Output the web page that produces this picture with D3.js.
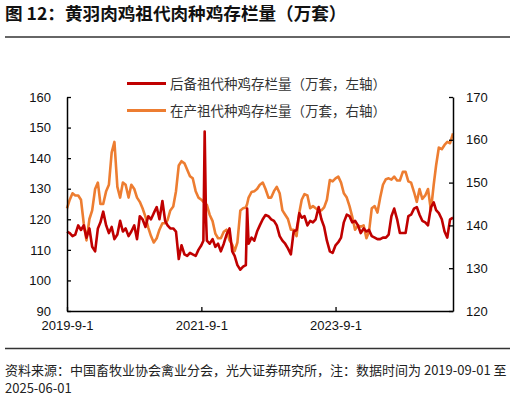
<!DOCTYPE html>
<html>
<head>
<meta charset="utf-8">
<script src="https://cdn.jsdelivr.net/npm/d3@7"></script>
<style>
  body { margin: 0; background: #fff; }
  svg text { font-family: "Liberation Sans", Arial, "Noto Sans CJK SC", sans-serif; }
  .cjk { font-family: "Noto Sans CJK SC", "Liberation Sans", sans-serif; }
</style>
</head>
<body>
<svg id="container"></svg>
<script>
// dates (semi-monthly, with a few extra points around spikes)
var dates = [
  "2019-09-01","2019-09-16","2019-10-01","2019-10-16","2019-11-01","2019-11-16","2019-12-01","2019-12-16",
  "2020-01-01","2020-01-16","2020-02-01","2020-02-16","2020-03-01","2020-03-16","2020-04-01","2020-04-16",
  "2020-05-01","2020-05-16","2020-06-01","2020-06-16","2020-07-01","2020-07-16","2020-08-01","2020-08-16",
  "2020-09-01","2020-09-16","2020-10-01","2020-10-16","2020-11-01","2020-11-16","2020-12-01","2020-12-16",
  "2021-01-01","2021-01-16","2021-02-01","2021-02-16","2021-03-01","2021-03-16","2021-04-01","2021-04-16",
  "2021-05-01","2021-05-16","2021-06-01","2021-06-16","2021-07-01","2021-07-16","2021-08-01","2021-08-16",
  "2021-09-01","2021-09-12","2021-09-19","2021-09-26","2021-10-01","2021-10-16","2021-11-01","2021-11-16",
  "2021-12-01","2021-12-16","2022-01-01","2022-01-16","2022-02-01","2022-02-16","2022-03-01","2022-03-16",
  "2022-04-01","2022-04-16","2022-05-01","2022-05-08","2022-05-16","2022-06-01","2022-06-16","2022-07-01",
  "2022-07-16","2022-08-01","2022-08-16","2022-09-01","2022-09-16","2022-10-01","2022-10-16","2022-11-01",
  "2022-11-16","2022-12-01","2022-12-16","2023-01-01","2023-01-16","2023-02-01","2023-02-16","2023-03-01",
  "2023-03-16","2023-04-01","2023-04-16","2023-05-01","2023-05-16","2023-06-01","2023-06-16","2023-07-01",
  "2023-07-16","2023-08-01","2023-08-16","2023-09-01","2023-09-16","2023-10-01","2023-10-16","2023-11-01",
  "2023-11-16","2023-12-01","2023-12-16","2024-01-01","2024-01-16","2024-02-01","2024-02-16","2024-03-01",
  "2024-03-16","2024-04-01","2024-04-16","2024-05-01","2024-05-16","2024-06-01","2024-06-16","2024-07-01",
  "2024-07-16","2024-08-01","2024-08-16","2024-09-01","2024-09-16","2024-10-01","2024-10-16","2024-11-01",
  "2024-11-16","2024-12-01","2024-12-16","2025-01-01","2025-01-16","2025-02-01","2025-02-16","2025-03-01",
  "2025-03-16","2025-04-01","2025-04-16","2025-05-01","2025-05-16","2025-06-01"
];

// 后备祖代种鸡存栏量 (左轴)
var reserveStock = [
  116,115.5,114.5,115,118,116.5,118,114,
  117,111,109.5,117,119,122.5,118,115.5,
  117.5,113.5,115,119.5,116,117,114.5,116,
  118,113.5,121,120,117.5,121,120,122,
  124,120,126,119.5,118,117,117,116,
  107,111.5,108.5,108,109,108.5,108,110,
  111.5,113,148.7,121,113,112,113.5,111,
  112,109.5,112,115,117,109.5,108,105,
  103.5,104.5,105,123.5,112,114,113,116,
  118,120,121.4,121,120,119.5,118,114.5,
  113,112,110.5,108.5,116,116.5,122,120.5,
  121,118,119.5,119,120,124,120,117.5,
  113,109.5,109,111.5,112.5,114,119,121.5,
  121,119,119.5,118,115.5,117,116,116.5,
  114.5,114,113.5,113.5,114,114,115,121,
  123.5,120,115.5,115.5,115.5,121,121.5,123.5,
  124,121.5,119.5,119,118,124,125.5,123,
  122,120,116,114,120,120.5
];

// 在产祖代种鸡存栏量 (右轴)
var layingStock = [
  144,146,147.5,147,147,146,140.5,136.5,
  141.5,143.5,148.5,150,145,145,148,149.5,
  157,159.5,149,146.5,150,149.5,146.5,149.5,
  148.5,146.5,145.5,144,142,139.5,137.5,136,
  137,139,140.5,140.5,141.2,143.5,144.4,148,
  154,155,154.5,153,151.5,151,148,146.5,
  146,145.5,145.5,145,144.8,142.5,141,138.1,
  137,137,138.5,139,136.5,135.5,134,136,
  143.5,144,144.2,145,146.5,147.8,148,148.5,
  149.5,150,148.5,146.5,146.5,148,149,147.5,
  143.5,142.5,141.5,139,139,137.5,143,146,
  147.3,147,144,144.5,144,143.5,143.5,144.2,
  146,150.6,150.3,151,151.4,150,147.5,146.5,
  144.5,142,139,140,139.7,140,137,138.5,
  144,144.5,143,146.5,149.5,150.8,151,150.7,
  151.4,150.5,150.5,152.5,152.5,150.3,150,147.8,
  145.5,148.5,146.2,147,148.5,143.5,149.5,154,
  158.2,157.8,158.8,159.5,159.2,161.5
];

var leftTicks = [90, 100, 110, 120, 130, 140, 150, 160];
var rightTicks = [120, 130, 140, 150, 160, 170];
var xTicks = ["2019-09-01", "2021-09-01", "2023-09-01"];

var seriesNames = ["后备祖代种鸡存栏量（万套，左轴）", "在产祖代种鸡存栏量（万套，右轴）"];
var colors = ["#C00000", "#ED7D31"];

function drawChart(){
    var parseDate = d3.timeParse("%Y-%m-%d");
    var fmt = d3.timeFormat("%Y-%-m-%-d");

    var W = 515, H = 398;
    var svg = d3.select("#container").attr("width", W).attr("height", H);

    // plot box
    var x0 = 67, x1 = 453, yTop = 97, yBot = 311;

    var xScale = d3.scaleTime()
        .domain([parseDate(dates[0]), parseDate(dates[dates.length - 1])])
        .range([x0, x1]);
    var yLeft = d3.scaleLinear().domain([90, 160]).range([yBot, yTop]);
    var yRight = d3.scaleLinear().domain([120, 170]).range([yBot, yTop]);

    // title
    svg.append("text")
        .attr("class", "cjk")
        .attr("x", 5).attr("y", 20)
        .style("font-size", "17.6px").style("font-weight", "bold").style("fill", "#111")
        .text("图 12：黄羽肉鸡祖代肉种鸡存栏量（万套）");
    svg.append("line")
        .attr("x1", 5).attr("x2", 510).attr("y1", 37).attr("y2", 37)
        .attr("stroke", "#333").attr("stroke-width", 1.3);

    // lines
    var rows = dates.map((d, i) => ({date: parseDate(d), a: reserveStock[i], b: layingStock[i]}));

    var lineB = d3.line().x(d => xScale(d.date)).y(d => yRight(d.b));
    var lineA = d3.line().x(d => xScale(d.date)).y(d => yLeft(d.a));

    svg.append("path").datum(rows)
        .attr("d", lineB).attr("fill", "none")
        .attr("stroke", colors[1]).attr("stroke-width", 2.6).attr("stroke-linejoin", "round");
    svg.append("path").datum(rows)
        .attr("d", lineA).attr("fill", "none")
        .attr("stroke", colors[0]).attr("stroke-width", 2.6).attr("stroke-linejoin", "round");

    // axes (ticks point inward)
    var gL = svg.append("g").attr("transform", "translate(" + x0 + ",0)")
        .call(d3.axisLeft(yLeft).tickValues(leftTicks).tickSizeInner(-4).tickSizeOuter(0).tickPadding(16));
    var gR = svg.append("g").attr("transform", "translate(" + x1 + ",0)")
        .call(d3.axisRight(yRight).tickValues(rightTicks).tickSizeInner(-4).tickSizeOuter(0).tickPadding(13));
    var gX = svg.append("g").attr("transform", "translate(0," + yBot + ")")
        .call(d3.axisBottom(xScale).tickValues(xTicks.map(parseDate)).tickFormat(fmt)
            .tickSizeInner(-4).tickSizeOuter(0).tickPadding(10));

    [gL, gR, gX].forEach(g => {
        g.select(".domain").attr("stroke", "#000").attr("stroke-width", 1.5);
        g.selectAll(".tick line").attr("stroke", "#000").attr("stroke-width", 1.3);
        g.selectAll(".tick text")
            .style("font-family", "'Liberation Sans', Arial, sans-serif")
            .style("font-size", "13px").attr("fill", "#111");
    });

    // legend
    var legend = svg.append("g");
    [83.5, 110.5].forEach((ly, i) => {
        legend.append("line")
            .attr("x1", 127).attr("x2", 166).attr("y1", ly).attr("y2", ly)
            .attr("stroke", colors[i]).attr("stroke-width", 3);
        legend.append("text")
            .attr("class", "cjk")
            .attr("x", 170).attr("y", ly + 5)
            .style("font-size", "13.5px").style("fill", "#333")
            .text(seriesNames[i]);
    });

    // footer
    svg.append("line")
        .attr("x1", 5).attr("x2", 510).attr("y1", 348.5).attr("y2", 348.5)
        .attr("stroke", "#333").attr("stroke-width", 1.3);
    svg.append("text")
        .attr("class", "cjk")
        .attr("x", 5).attr("y", 375)
        .style("font-size", "13px").style("fill", "#222")
        .text("资料来源：中国畜牧业协会禽业分会，光大证券研究所，注：数据时间为 2019-09-01 至");
    svg.append("text")
        .attr("class", "cjk")
        .attr("x", 5).attr("y", 393)
        .style("font-size", "13px").style("fill", "#222")
        .text("2025-06-01");
}

drawChart();
</script>
</body>
</html>
